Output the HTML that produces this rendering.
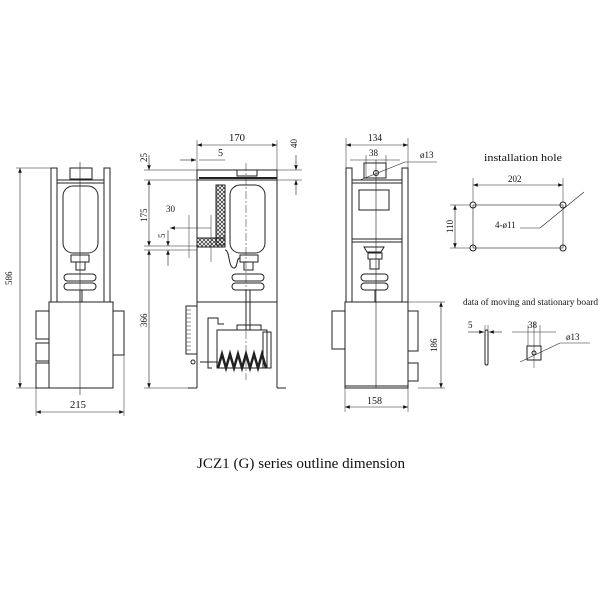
<!DOCTYPE html>
<html><head><style>body{margin:0;background:#fff}svg{display:block}text{font-family:"Liberation Serif",serif;fill:#111}</style></head><body>
<svg width="600" height="600" viewBox="0 0 600 600" xmlns="http://www.w3.org/2000/svg">
<defs>
<marker id="a" markerWidth="8" markerHeight="6" refX="8" refY="3" orient="auto-start-reverse"><path d="M0,0L8,3L0,6z" fill="#111"/></marker>
<pattern id="h" width="4" height="4" patternUnits="userSpaceOnUse"><path d="M0,0L4,4M4,0L0,4" stroke="#222" stroke-width="0.7"/></pattern>
</defs>
<g stroke="#222" stroke-width="1" fill="none">
<!-- View 1 -->
<rect x="51" y="168" width="6" height="134"/><rect x="104" y="168" width="6" height="134"/>
<rect x="70" y="168" width="22" height="11"/>
<line x1="57" y1="180" x2="104" y2="180"/><line x1="57" y1="183" x2="104" y2="183"/>
<rect x="63" y="186" width="35" height="67" rx="10"/>
<rect x="71" y="255" width="18" height="7"/><rect x="76" y="262" width="9" height="8"/>
<rect x="64" y="274" width="32" height="7" rx="3.5"/><rect x="64" y="283" width="32" height="7" rx="3.5"/>
<line x1="80" y1="290" x2="80" y2="302"/><line x1="82" y1="290" x2="82" y2="302"/>
<rect x="49" y="302" width="64" height="86"/>
<rect x="36" y="311" width="13" height="28"/><rect x="36" y="343" width="13" height="18"/><rect x="36" y="363" width="13" height="25"/>
<rect x="113" y="311" width="11" height="44"/>
<line x1="80" y1="162" x2="80" y2="395" stroke-width="0.6"/>
<!-- dims v1 -->
<line x1="20" y1="168" x2="20" y2="388" marker-start="url(#a)" marker-end="url(#a)" stroke-width="0.6"/>
<line x1="16" y1="168" x2="51" y2="168" stroke-width="0.5"/><line x1="16" y1="388" x2="49" y2="388" stroke-width="0.5"/>
<line x1="36" y1="388" x2="36" y2="416" stroke-width="0.5"/><line x1="124" y1="355" x2="124" y2="416" stroke-width="0.5"/>
<line x1="36" y1="412" x2="124" y2="412" marker-start="url(#a)" marker-end="url(#a)" stroke-width="0.6"/>

<!-- View 2 -->
<rect x="197" y="170" width="80" height="10"/><line x1="199" y1="178" x2="277" y2="178" stroke-width="2"/>
<rect x="237" y="170" width="20" height="6"/>
<line x1="197" y1="180" x2="197" y2="388"/><line x1="277" y1="180" x2="277" y2="388"/>
<rect x="230" y="185" width="35" height="68" rx="10"/>
<rect x="216" y="185" width="9" height="60" fill="url(#h)"/>
<rect x="197" y="238" width="28" height="9" fill="url(#h)"/>
<path d="M225,250 C230,250 228,268 234,268 C238,268 236,258 240,258"/>
<rect x="240" y="255" width="18" height="7"/><rect x="244" y="262" width="9" height="8"/>
<rect x="232" y="274" width="32" height="7" rx="3.5"/><rect x="232" y="283" width="32" height="7" rx="3.5"/>
<line x1="246" y1="290" x2="246" y2="330"/><line x1="250" y1="290" x2="250" y2="330"/>
<line x1="197" y1="302" x2="277" y2="302"/>
<rect x="186" y="306" width="11" height="48"/>
<path d="M186,310h5M186,314h5M186,318h5M186,322h5M186,326h5M186,330h5M186,334h5M186,338h5M186,342h5M186,346h5M186,350h5" stroke-width="0.6"/>
<path d="M208,330 V318 H218 V324 H224 M208,330 V368 H212"/>
<rect x="217" y="330" width="50" height="38"/>
<rect x="263" y="332" width="8" height="36"/>
<rect x="237" y="325" width="24" height="5"/>
<path d="M218,368 l4,-14 l4,14 l4,-14 l4,14 l4,-14 l4,14 l4,-14 l4,14 l4,-14 l4,14 l4,-14 l4,14" stroke-width="2.5"/>
<line x1="200" y1="362" x2="218" y2="362"/><circle cx="193" cy="362" r="2"/>
<path d="M188,388h9M277,388h9" />
<line x1="246" y1="163" x2="246" y2="380" stroke-width="0.5" stroke-dasharray="8,2,2,2"/>
<!-- dims v2 -->
<line x1="197" y1="145" x2="277" y2="145" marker-start="url(#a)" marker-end="url(#a)" stroke-width="0.6"/>
<line x1="197" y1="140" x2="197" y2="170" stroke-width="0.5"/><line x1="277" y1="140" x2="277" y2="170" stroke-width="0.5"/>
<line x1="180" y1="160" x2="196" y2="160" marker-end="url(#a)" stroke-width="0.6"/><line x1="199" y1="160" x2="225" y2="160" stroke-width="0.6"/>
<line x1="277" y1="170" x2="302" y2="170" stroke-width="0.5"/><line x1="277" y1="180" x2="302" y2="180" stroke-width="0.5"/>
<line x1="296" y1="155" x2="296" y2="170" marker-end="url(#a)" stroke-width="0.6"/><line x1="296" y1="180" x2="296" y2="195" marker-start="url(#a)" stroke-width="0.6"/>
<line x1="144" y1="170" x2="197" y2="170" stroke-width="0.5"/><line x1="144" y1="180" x2="197" y2="180" stroke-width="0.5"/>
<line x1="144" y1="246" x2="197" y2="246" stroke-width="0.5"/><line x1="144" y1="250" x2="197" y2="250" stroke-width="0.5"/>
<line x1="144" y1="388" x2="188" y2="388" stroke-width="0.5"/>
<line x1="149" y1="155" x2="149" y2="170" marker-end="url(#a)" stroke-width="0.6"/>
<line x1="149" y1="180" x2="149" y2="246" marker-start="url(#a)" marker-end="url(#a)" stroke-width="0.6"/>
<line x1="149" y1="250" x2="149" y2="388" marker-start="url(#a)" marker-end="url(#a)" stroke-width="0.6"/>
<line x1="170" y1="228" x2="211" y2="228" marker-start="url(#a)" stroke-width="0.6"/>
<line x1="189" y1="215" x2="189" y2="258" stroke-width="0.5"/><line x1="211" y1="215" x2="211" y2="262" stroke-width="0.5"/>
<line x1="168" y1="230" x2="168" y2="246" marker-end="url(#a)" stroke-width="0.6"/><line x1="168" y1="250" x2="168" y2="266" marker-start="url(#a)" stroke-width="0.6"/>

<!-- View 3 -->
<rect x="346" y="168" width="6" height="134"/><rect x="402" y="168" width="6" height="134"/>
<rect x="364" y="163" width="22" height="15"/>
<line x1="352" y1="180" x2="402" y2="180"/><line x1="352" y1="183" x2="402" y2="183"/>
<rect x="359" y="190" width="30" height="20"/>
<line x1="352" y1="239" x2="402" y2="239"/><line x1="352" y1="242" x2="402" y2="242"/>
<path d="M364,247 h20 l-3,5 h-14z"/>
<rect x="368" y="253" width="14" height="6"/><rect x="370" y="259" width="9" height="10"/>
<rect x="361" y="274" width="27" height="7" rx="3.5"/><rect x="361" y="283" width="27" height="7" rx="3.5"/>
<line x1="375" y1="290" x2="375" y2="302"/>
<rect x="345" y="302" width="63" height="86"/><line x1="345" y1="386" x2="408" y2="386"/>
<rect x="332" y="311" width="13" height="38"/>
<rect x="408" y="311" width="10" height="40"/><rect x="408" y="363" width="10" height="18"/>
<line x1="376" y1="160" x2="376" y2="388" stroke-width="0.6"/>
<circle cx="376" cy="173" r="2.5"/>
<!-- dims v3 -->
<line x1="346" y1="145" x2="408" y2="145" marker-start="url(#a)" marker-end="url(#a)" stroke-width="0.6"/>
<line x1="346" y1="138" x2="346" y2="168" stroke-width="0.5"/><line x1="408" y1="138" x2="408" y2="168" stroke-width="0.5"/>
<line x1="350" y1="160" x2="400" y2="160" stroke-width="0.6"/>
<line x1="366" y1="155" x2="366" y2="178" stroke-width="0.5"/><line x1="386" y1="155" x2="386" y2="178" stroke-width="0.5"/>
<line x1="360" y1="180" x2="405" y2="162" stroke-width="0.6"/><line x1="405" y1="162" x2="437" y2="162" stroke-width="0.6"/>
<line x1="345" y1="407" x2="408" y2="407" marker-start="url(#a)" marker-end="url(#a)" stroke-width="0.6"/>
<line x1="345" y1="388" x2="345" y2="412" stroke-width="0.5"/><line x1="408" y1="388" x2="408" y2="412" stroke-width="0.5"/>
<line x1="408" y1="302" x2="445" y2="302" stroke-width="0.5"/><line x1="418" y1="388" x2="445" y2="388" stroke-width="0.5"/>
<line x1="441" y1="302" x2="441" y2="388" marker-start="url(#a)" marker-end="url(#a)" stroke-width="0.6"/>

<!-- installation hole -->
<rect x="473" y="205" width="90" height="43" stroke-width="0.6"/>
<circle cx="473" cy="205" r="3"/><circle cx="563" cy="205" r="3"/><circle cx="473" cy="248" r="3"/><circle cx="563" cy="248" r="3"/>
<line x1="473" y1="178" x2="473" y2="202" stroke-width="0.5"/><line x1="563" y1="178" x2="563" y2="202" stroke-width="0.5"/>
<line x1="473" y1="185" x2="563" y2="185" marker-start="url(#a)" marker-end="url(#a)" stroke-width="0.6"/>
<line x1="450" y1="205" x2="470" y2="205" stroke-width="0.5"/><line x1="450" y1="248" x2="470" y2="248" stroke-width="0.5"/>
<line x1="455" y1="205" x2="455" y2="248" marker-start="url(#a)" marker-end="url(#a)" stroke-width="0.6"/>
<line x1="520" y1="228" x2="540" y2="228" stroke-width="0.6"/><line x1="540" y1="228" x2="584" y2="192" stroke-width="0.6"/>

<!-- moving board -->
<rect x="485" y="330" width="3" height="35" rx="1.5"/>
<line x1="468" y1="332" x2="484" y2="332" marker-end="url(#a)" stroke-width="0.6"/><line x1="489" y1="332" x2="502" y2="332" marker-start="url(#a)" stroke-width="0.6"/>
<line x1="485" y1="325" x2="485" y2="330" stroke-width="0.5"/><line x1="488" y1="325" x2="488" y2="330" stroke-width="0.5"/>
<rect x="527" y="346" width="14" height="14"/><circle cx="534" cy="353" r="2"/>
<line x1="534" y1="322" x2="534" y2="368" stroke-width="0.5"/><line x1="528" y1="325" x2="528" y2="346" stroke-width="0.5"/><line x1="540" y1="325" x2="540" y2="346" stroke-width="0.5"/>
<line x1="512" y1="332" x2="556" y2="332" stroke-width="0.6"/>
<line x1="520" y1="362" x2="560" y2="343" stroke-width="0.6"/><line x1="560" y1="343" x2="590" y2="343" stroke-width="0.6"/>
</g>
<g font-size="10">
<text x="12" y="285" transform="rotate(-90 12 285)" font-size="9">586</text>
<text x="70" y="408" textLength="16" lengthAdjust="spacingAndGlyphs">215</text>
<text x="229" y="141" textLength="16" lengthAdjust="spacingAndGlyphs">170</text>
<text x="218" y="156">5</text>
<text x="297" y="148" font-size="9" transform="rotate(-90 297 148)">40</text>
<text x="147" y="162" font-size="9" transform="rotate(-90 147 162)">25</text>
<text x="147" y="222" font-size="9" transform="rotate(-90 147 222)">175</text>
<text x="147" y="327" font-size="9" transform="rotate(-90 147 327)">366</text>
<text x="166" y="212" font-size="9">30</text>
<text x="165" y="238" font-size="9" transform="rotate(-90 165 238)">5</text>
<text x="368" y="141" textLength="14" lengthAdjust="spacingAndGlyphs">134</text>
<text x="369" y="156" font-size="9">38</text>
<text x="420" y="158" font-size="9">ø13</text>
<text x="367" y="404" textLength="15" lengthAdjust="spacingAndGlyphs">158</text>
<text x="437" y="352" font-size="9" transform="rotate(-90 437 352)">186</text>
<text x="484" y="161" font-size="11" textLength="78" lengthAdjust="spacingAndGlyphs">installation hole</text>
<text x="508" y="182" font-size="9">202</text>
<text x="453" y="233" font-size="9" transform="rotate(-90 453 233)">110</text>
<text x="495" y="228" font-size="9">4-ø11</text>
<text x="463" y="305" font-size="9" textLength="135" lengthAdjust="spacingAndGlyphs">data of moving and stationary board</text>
<text x="468" y="328" font-size="9">5</text>
<text x="528" y="328" font-size="9">38</text>
<text x="566" y="340" font-size="9">ø13</text>
<text x="197" y="468" font-size="15" textLength="208" lengthAdjust="spacingAndGlyphs">JCZ1 (G) series outline dimension</text>
</g>
</svg>
</body></html>
